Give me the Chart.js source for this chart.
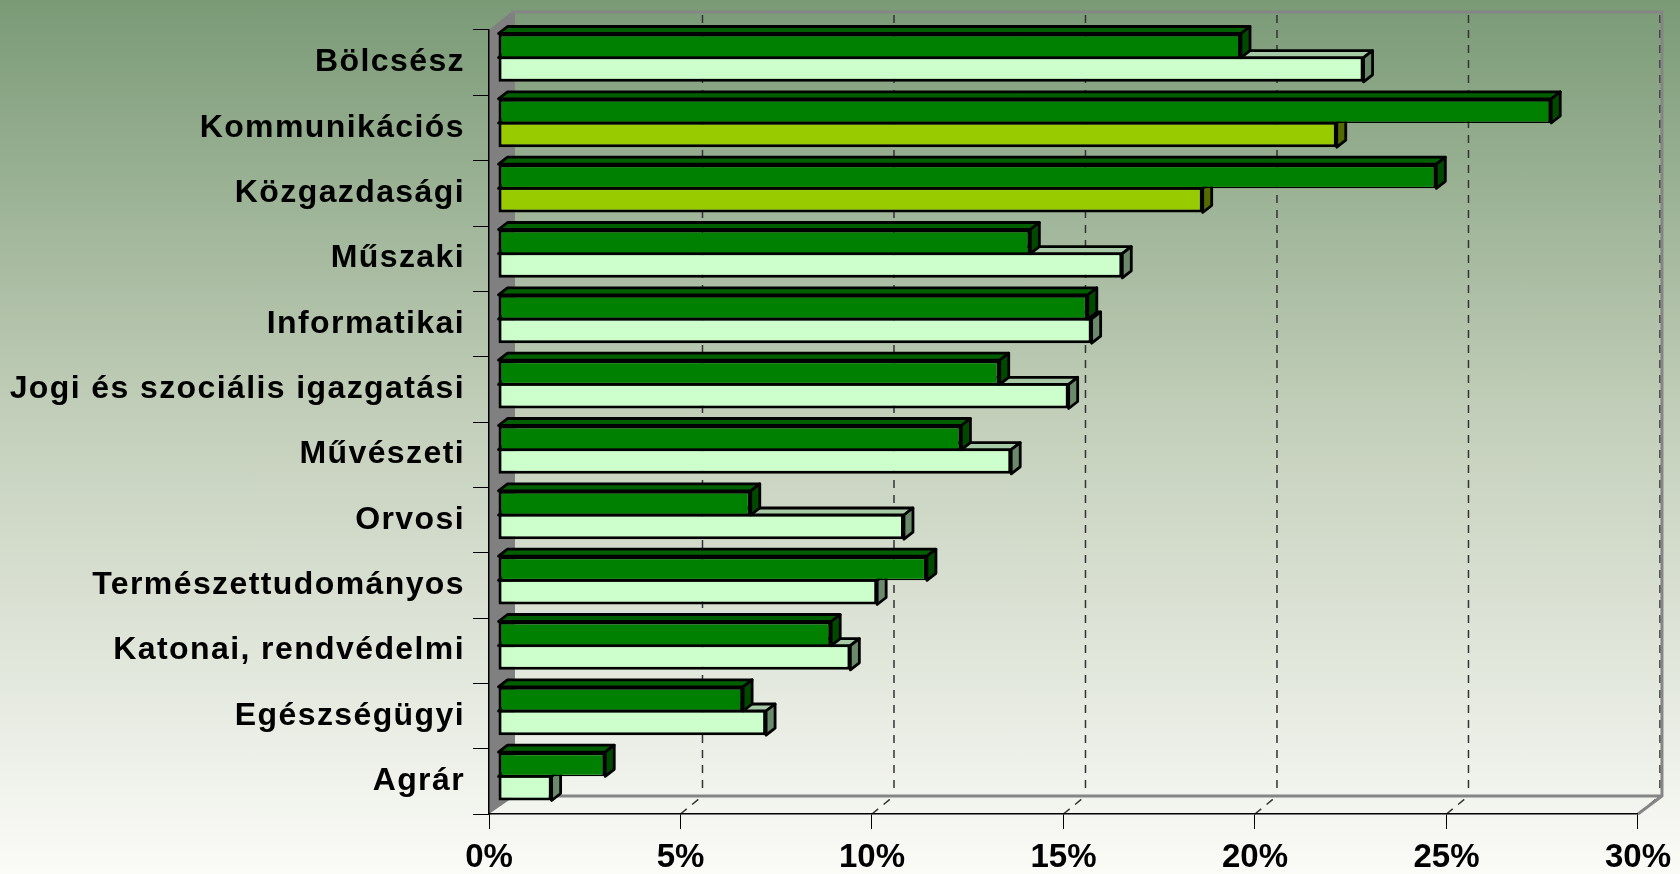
<!DOCTYPE html>
<html>
<head>
<meta charset="utf-8">
<script src="https://cdn.jsdelivr.net/npm/chart.js@4.4.1/dist/chart.umd.min.js"></script>
<style>
html, body { margin: 0; padding: 0; }
body {
    width: 1680px; height: 874px; overflow: hidden;
    background: linear-gradient(to bottom, #7a9a76 0%, #c6d1bd 50%, #fbfbf8 100%);
}
canvas { display: block; }
</style>
</head>
<body>
<canvas id="chart" width="1680" height="874"></canvas>
<script>
const categories = [
    'Bölcsész', 'Kommunikációs', 'Közgazdasági', 'Műszaki', 'Informatikai',
    'Jogi és szociális igazgatási', 'Művészeti', 'Orvosi', 'Természettudományos',
    'Katonai, rendvédelmi', 'Egészségügyi', 'Agrár'
];
const upperSeries = [19.4, 27.5, 24.5, 13.9, 15.4, 13.1, 12.1, 6.6, 11.2, 8.7, 6.4, 2.8];
const lowerSeries = [22.6, 21.9, 18.4, 16.3, 15.5, 14.9, 13.4, 10.6, 9.9, 9.2, 7.0, 1.4];
const highlighted = [1, 2];   // rows where the lower bar is yellow-green
const xTicks = [0, 5, 10, 15, 20, 25, 30];

const FONT = "'Liberation Sans', Arial, sans-serif";

// 3D look: back wall offset, bar front offset, bar depth
const WALL_X = 22, WALL_Y = -18;
const BAR_X = 9, BAR_Y = -5;
const FACE_X = 9, FACE_Y = -7;

const lowerFront = categories.map((c, i) => highlighted.includes(i) ? '#99cc00' : '#ccffcc');
const lowerTop = categories.map((c, i) => highlighted.includes(i) ? '#7a9f00' : '#a6c9a6');
const lowerSide = categories.map((c, i) => highlighted.includes(i) ? '#546b00' : '#6b8a6b');
const upperTop = categories.map(() => '#006000');
const upperSide = categories.map(() => '#004a00');

function poly(ctx, pts) {
    ctx.beginPath();
    ctx.moveTo(pts[0][0], pts[0][1]);
    for (let i = 1; i < pts.length; i++) ctx.lineTo(pts[i][0], pts[i][1]);
    ctx.closePath();
    ctx.fill();
    ctx.stroke();
}

const frame3d = {
    id: 'frame3d',
    beforeDraw(chart) {
        const { ctx, chartArea: a } = chart;
        const xs = chart.scales.x;
        ctx.save();
        // left wall
        ctx.fillStyle = '#808080';
        ctx.beginPath();
        ctx.moveTo(a.left, a.top);
        ctx.lineTo(a.left + WALL_X, a.top + WALL_Y);
        ctx.lineTo(a.left + WALL_X + 4, a.top + WALL_Y);
        ctx.lineTo(a.left + WALL_X + 4, a.bottom + WALL_Y);
        ctx.lineTo(a.left, a.bottom);
        ctx.closePath();
        ctx.fill();

        // dashed grid on back wall and floor
        ctx.strokeStyle = '#333';
        ctx.lineWidth = 1.5;
        ctx.setLineDash([8, 7]);
        xTicks.forEach(v => {
            if (v === 0) return;
            const px = xs.getPixelForValue(v);
            ctx.beginPath();
            ctx.moveTo(px + WALL_X, a.top + WALL_Y + 3);
            ctx.lineTo(px + WALL_X, a.bottom + WALL_Y);
            ctx.stroke();
            ctx.beginPath();
            ctx.moveTo(px, a.bottom);
            ctx.lineTo(px + WALL_X, a.bottom + WALL_Y);
            ctx.stroke();
        });
        ctx.setLineDash([]);

        // back frame
        ctx.strokeStyle = '#858585';
        ctx.lineWidth = 3;
        ctx.beginPath();
        ctx.moveTo(a.left + WALL_X, a.top + WALL_Y);
        ctx.lineTo(a.right + WALL_X + 2, a.top + WALL_Y);
        ctx.lineTo(a.right + WALL_X + 2, a.bottom + WALL_Y);
        ctx.lineTo(a.right, a.bottom);
        ctx.moveTo(a.right + WALL_X + 2, a.bottom + WALL_Y);
        ctx.lineTo(a.left + WALL_X, a.bottom + WALL_Y);
        ctx.stroke();
        ctx.restore();

        ctx.letterSpacing = '1.4px';
    },
    beforeDatasetsDraw(chart) {
        chart.ctx.letterSpacing = '0px';
        chart.ctx.save();
        chart.ctx.translate(BAR_X, BAR_Y);
    },
    afterDatasetDraw(chart, args) {
        const ctx = chart.ctx;
        const ds = chart.data.datasets[args.index];
        ctx.save();
        ctx.lineWidth = 2.8;
        ctx.lineJoin = 'round';
        ctx.strokeStyle = '#000';
        args.meta.data.forEach((bar, i) => {
            const { x, y, base, height } = bar.getProps(['x', 'y', 'base', 'height'], true);
            const top = y - height / 2, bottom = y + height / 2;
            ctx.fillStyle = ds.topColors[i];
            poly(ctx, [[base, top], [x, top], [x + FACE_X, top + FACE_Y], [base + FACE_X, top + FACE_Y]]);
            ctx.fillStyle = ds.sideColors[i];
            poly(ctx, [[x, top], [x + FACE_X, top + FACE_Y], [x + FACE_X, bottom + FACE_Y], [x, bottom]]);
        });
        ctx.restore();
    },
    afterDatasetsDraw(chart) {
        chart.ctx.restore();
    }
};

new Chart(document.getElementById('chart'), {
    type: 'bar',
    data: {
        labels: categories,
        datasets: [
            {
                label: 'upper',
                data: upperSeries,
                backgroundColor: '#008000',
                borderColor: '#000',
                borderWidth: { top: 3, right: 3, bottom: 1.5, left: 3 },
                borderSkipped: false,
                topColors: upperTop,
                sideColors: upperSide
            },
            {
                label: 'lower',
                data: lowerSeries,
                backgroundColor: lowerFront,
                borderColor: '#000',
                borderWidth: { top: 1.5, right: 3, bottom: 3, left: 3 },
                borderSkipped: false,
                topColors: lowerTop,
                sideColors: lowerSide
            }
        ]
    },
    options: {
        indexAxis: 'y',
        responsive: false,
        animation: false,
        clip: false,
        layout: { padding: { top: 30, right: 40, left: 0, bottom: 0 } },
        datasets: { bar: { categoryPercentage: 0.74, barPercentage: 1 } },
        plugins: { legend: { display: false }, tooltip: { enabled: false } },
        scales: {
            x: {
                min: 0, max: 30,
                afterFit(s) { s.height = 60; },
                afterBuildTicks(s) { s.ticks = xTicks.map(v => ({ value: v })); },
                grid: { drawOnChartArea: false, tickLength: 15, color: '#000', lineWidth: 1 },
                border: { color: '#000', width: 1.5 },
                ticks: {
                    z: 1, maxRotation: 0, padding: 9, color: '#000',
                    font: { family: FONT, size: 33, weight: 'bold' },
                    callback: v => v + '%'
                }
            },
            y: {
                afterFit(s) { s.width = 489; },
                grid: { drawOnChartArea: false, tickLength: 16, color: '#000', lineWidth: 1 },
                border: { color: '#000', width: 1.5 },
                ticks: {
                    padding: 8, color: '#000',
                    font: { family: FONT, size: 32, weight: 'bold' }
                }
            }
        }
    },
    plugins: [frame3d]
});
</script>
</body>
</html>
